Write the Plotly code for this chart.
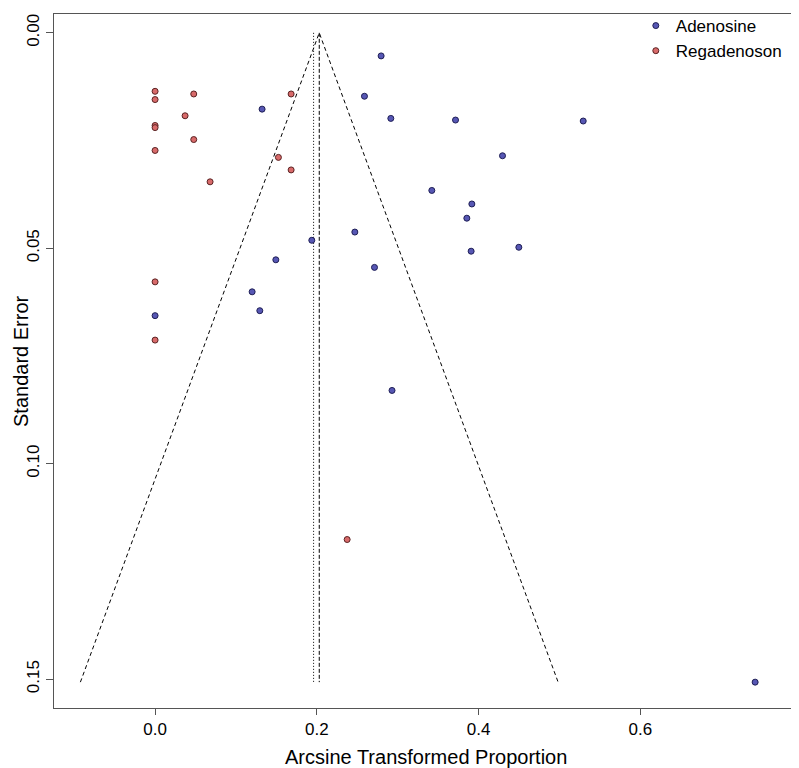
import plotly.graph_objects as go

# Adenosine studies: arcsine transformed proportion and standard error
aden_x = [0.2795, 0.2589, 0.2915, 0.3715, 0.5294, 0.4296, 0.3422, 0.3917, 0.3855,
          0.2470, 0.1938, 0.3908, 0.4498, 0.2713, 0.1323, 0.1493, 0.1200, 0.1295,
          0.0, 0.2930, 0.7420]
aden_se = [0.00536, 0.01472, 0.01986, 0.02024, 0.02047, 0.02853, 0.03658, 0.03972, 0.04302,
           0.04624, 0.04815, 0.05068, 0.04977, 0.05444, 0.01771, 0.05268, 0.06011, 0.06449,
           0.06564, 0.08300, 0.15070]

# Regadenoson studies
rega_x = [0.0, 0.0, 0.0478, 0.1682, 0.0371, 0.0, 0.0, 0.0478, 0.0, 0.1525, 0.1682,
          0.0680, 0.0, 0.0, 0.2375]
rega_se = [0.01357, 0.01549, 0.01419, 0.01419, 0.01925, 0.02150, 0.02200, 0.02477, 0.02730,
           0.02891, 0.03182, 0.03458, 0.05780, 0.07131, 0.11760]

pooled_est = 0.203      # dashed reference line / funnel centre
alt_est = 0.196         # dotted reference line
se_max = 0.1507
z = 1.96

x_ticks = [0.0, 0.2, 0.4, 0.6]
y_ticks = [0.00, 0.05, 0.10, 0.15]

FONT = "Liberation Sans, Arial, sans-serif"

fig = go.Figure()

# funnel
fig.add_trace(go.Scatter(
    x=[pooled_est - z * se_max, pooled_est, pooled_est + z * se_max],
    y=[se_max, 0, se_max], mode="lines",
    line=dict(color="black", width=1, dash="4px,3px"),
    showlegend=False, hoverinfo="skip"))
fig.add_trace(go.Scatter(
    x=[pooled_est, pooled_est], y=[0, se_max], mode="lines",
    line=dict(color="black", width=1, dash="4px,2px"),
    showlegend=False, hoverinfo="skip"))
fig.add_trace(go.Scatter(
    x=[alt_est, alt_est], y=[0, se_max], mode="lines",
    line=dict(color="black", width=1, dash="1px,2px"),
    showlegend=False, hoverinfo="skip"))

fig.add_trace(go.Scatter(
    x=aden_x, y=aden_se, mode="markers", name="Adenosine",
    marker=dict(size=6, color="#5757b4", line=dict(color="#1e1e55", width=1))))
fig.add_trace(go.Scatter(
    x=rega_x, y=rega_se, mode="markers", name="Regadenoson",
    marker=dict(size=6, color="#d86a6a", line=dict(color="#5a2222", width=1))))

fig.update_layout(
    width=791, height=760,
    margin=dict(l=46, r=1, t=0, b=60),
    paper_bgcolor="white", plot_bgcolor="white",
    font=dict(family=FONT, color="black", size=17),
    legend=dict(x=0.782, y=1.0086, xanchor="left", yanchor="top",
                bgcolor="rgba(0,0,0,0)", font=dict(size=17, family=FONT),
                itemwidth=30, tracegroupgap=0),
    xaxis=dict(range=[-0.125, 0.795], tickvals=x_ticks,
               ticktext=[f"{v:.1f}" for v in x_ticks],
               showgrid=False, zeroline=False, showline=True, mirror=True,
               linecolor="#555", linewidth=1, ticks="outside", ticklen=6,
               tickcolor="#555", tickfont=dict(size=17)),
    yaxis=dict(range=[0.1567, -0.00437], tickvals=y_ticks,
               ticktext=[f"{v:.2f}" for v in y_ticks], tickangle=-90,
               showgrid=False, zeroline=False, showline=True, mirror=True,
               linecolor="#555", linewidth=1, ticks="outside", ticklen=7,
               tickcolor="#555", tickfont=dict(size=17)),
    annotations=[
        dict(text="Arcsine Transformed Proportion", xref="paper", yref="paper",
             x=0.5, y=0, yshift=-49, xanchor="center", yanchor="middle",
             showarrow=False, font=dict(size=20, family=FONT)),
        dict(text="Standard Error", xref="paper", yref="paper",
             x=0, y=0.5, xshift=-33, textangle=-90, xanchor="center", yanchor="middle",
             showarrow=False, font=dict(size=20, family=FONT)),
    ],
)

fig.write_html("out.html")
